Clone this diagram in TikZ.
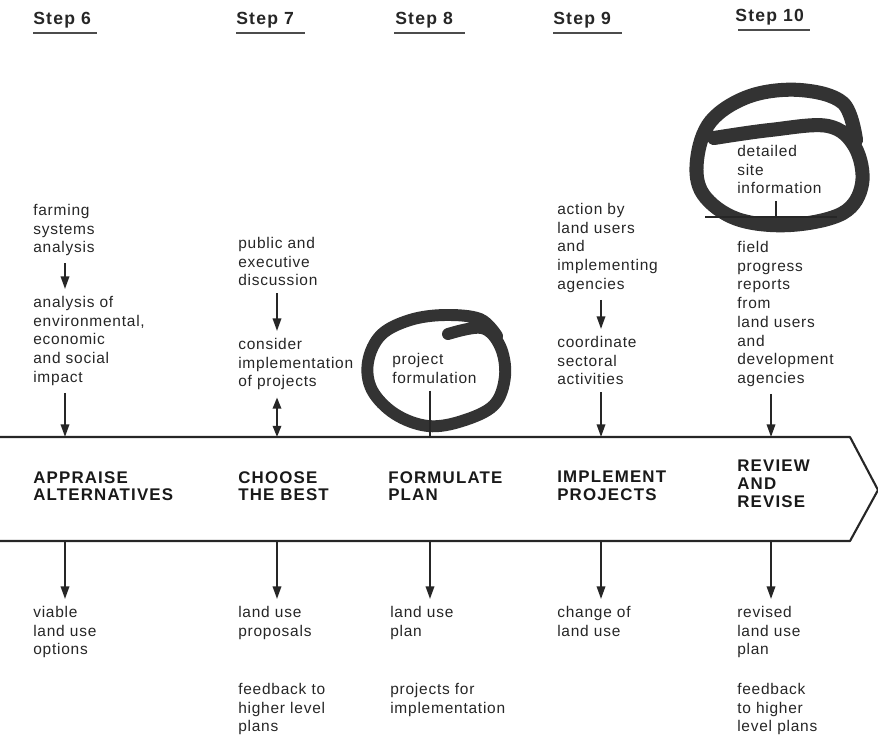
\documentclass[tikz,border=0pt]{standalone}
\usepackage{fontspec}
\setmainfont{Liberation Sans}
\usetikzlibrary{arrows.meta}
\begin{document}
\begin{tikzpicture}[x=0.025cm,y=-0.025cm]
\tikzstyle{txt}=[anchor=north west,inner xsep=0pt,inner ysep=5pt,align=left,text=black!85,font=\fontsize{11}{13.3}\selectfont\addfontfeatures{LetterSpace=5}]
\tikzstyle{act}=[anchor=north west,inner sep=0pt,align=left,text=black!90,font=\fontsize{12}{12.6}\selectfont\bfseries\addfontfeatures{LetterSpace=7}]
\tikzstyle{hdr}=[anchor=base west,inner sep=0pt,text=black!85,font=\fontsize{12.5}{14}\selectfont\bfseries\addfontfeatures{LetterSpace=7}]
\tikzstyle{uline}=[line width=1.6pt,black!70]
\tikzstyle{arr}=[line width=1.4pt,black!85,-{Triangle[length=9pt,width=6pt]}]
\tikzstyle{dbl}=[line width=1.4pt,black!85,{Triangle[length=8pt,width=6pt]}-{Triangle[length=8pt,width=6pt]}]
\tikzstyle{loopline}=[line width=8.5pt,black!80,line cap=round,line join=round]
\useasboundingbox (0,0) rectangle (878,739);
\coordinate (c6) at (65,0);
\coordinate (c7) at (277,0);
\coordinate (c8) at (430,0);
\coordinate (c9) at (601,0);
\coordinate (c10) at (771,0);
\coordinate (btop) at (0,437);
\coordinate (bbot) at (0,541);
\coordinate (rule) at (776,217);
\coordinate (ruleL) at (705,217);
\coordinate (ruleR) at (837,217);
% headers
\node[hdr](s6) at (33,24) {Step 6};
\node[hdr](s7) at (236,24) {Step 7};
\node[hdr](s8) at (395,24) {Step 8};
\node[hdr](s9) at (553,24) {Step 9};
\node[hdr](s10) at (735,21) {Step 10};
\draw[uline] (33,33) -- (97,33);
\draw[uline] (236,33) -- (305,33);
\draw[uline] (394,33) -- (465,33);
\draw[uline] (553,33) -- (622,33);
\draw[uline] (738,30) -- (810,30);
% band
\draw[line width=1.5pt,black!85,line join=round] (0,437) -- (850,437) -- (878,490) -- (850,541) -- (0,541);
% circles
\draw[loopline] plot[smooth,tension=0.6] coordinates {(448,334) (482,328) (500,346) (505,376) (494,405) (462,421) (428,426) (395,414) (372,390) (368,362) (381,335) (410,320) (445,315) (480,319) (497,336)};
\draw[loopline,line width=10pt] plot[smooth,tension=0.6] coordinates {(714,138) (770,130) (828,126) (855,147) (862,184) (843,213) (790,225) (737,219) (703,194) (697,160) (711,121) (750,96) (800,90) (843,103) (856,140)};
% step 6
\node[txt](farm) at (33,197) {farming\\systems\\analysis};
\node[txt](envir) at (33,289) {analysis of\\environmental,\\economic\\and social\\impact};
\node[act](appr) at (33,471) {APPRAISE\\ALTERNATIVES};
\node[txt](viable) at (33,599) {viable\\land use\\options};
\draw[arr] (farm.south -| c6) -- (envir.north -| c6);
\draw[arr] (envir.south -| c6) -- (btop -| c6);
\draw[arr] (bbot -| c6) -- (viable.north -| c6);
% step 7
\node[txt](public) at (238,230) {public and\\executive\\discussion};
\node[txt](consid) at (238,331) {consider\\implementation\\of projects};
\node[act](choose) at (238,471) {CHOOSE\\THE BEST};
\node[txt](propos) at (238,599) {land use\\proposals};
\node[txt](feed7) at (238,676) {feedback to\\higher level\\plans};
\draw[arr] (public.south -| c7) -- (consid.north -| c7);
\draw[dbl] (consid.south -| c7) -- (btop -| c7);
\draw[arr] (bbot -| c7) -- (propos.north -| c7);
% step 8
\node[txt](projf) at (392,346) {project\\formulation};
\node[act](formul) at (388,471) {FORMULATE\\PLAN};
\node[txt](lplan) at (390,599) {land use\\plan};
\node[txt](projimp) at (390,676) {projects for\\implementation};
\draw[line width=1.4pt,black!85] (projf.south -| c8) -- (btop -| c8);
\draw[arr] (bbot -| c8) -- (lplan.north -| c8);
% step 9
\node[txt](action) at (557,196) {action by\\land users\\and\\implementing\\agencies};
\node[txt](coord) at (557,329) {coordinate\\sectoral\\activities};
\node[act](implem) at (557,471) {IMPLEMENT\\PROJECTS};
\node[txt](change) at (557,599) {change of\\land use};
\draw[arr] (action.south -| c9) -- (coord.north -| c9);
\draw[arr] (coord.south -| c9) -- (btop -| c9);
\draw[arr] (bbot -| c9) -- (change.north -| c9);
% step 10
\node[txt](detail) at (737,138) {detailed\\site\\information};
\node[txt](field) at (737,234) {field\\progress\\reports\\from\\land users\\and\\development\\agencies};
\node[act](review) at (737,460) {REVIEW\\AND\\REVISE};
\node[txt](revised) at (737,599) {revised\\land use\\plan};
\node[txt](feed10) at (737,676) {feedback\\to higher\\level plans};
\draw[line width=1.2pt,black!85] (detail.south -| rule) -- (rule);
\draw[line width=0.8pt,black!85] (ruleL) -- (ruleR);
\draw[arr] (field.south -| c10) -- (btop -| c10);
\draw[arr] (bbot -| c10) -- (revised.north -| c10);
\end{tikzpicture}
\end{document}
